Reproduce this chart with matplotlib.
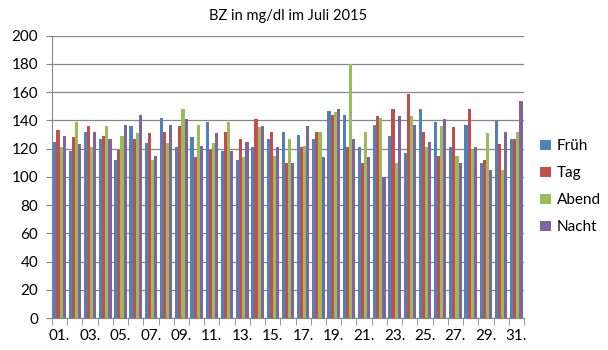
import matplotlib
matplotlib.use("Agg")
import matplotlib.pyplot as plt
import numpy as np

days = [f"{d:02d}." for d in range(1, 32)]
series_names = ["Früh", "Tag", "Abend", "Nacht"]
frueh = [125, 118, 132, 127, 112, 136, 124, 142, 121, 128, 139, 118, 112, 121, 127, 132,
         130, 127, 147, 144, 121, 137, 129, 117, 148, 139, 121, 137, 110, 140, 127]
tag = [133, 128, 136, 129, 119, 127, 131, 132, 136, 114, 119, 132, 127, 141, 132, 110,
       121, 132, 144, 121, 110, 143, 148, 159, 132, 115, 135, 148, 112, 123, 127]
abend = [121, 139, 121, 136, 129, 131, 112, 124, 148, 137, 124, 139, 114, 135, 115, 127,
         122, 132, 146, 180, 132, 142, 110, 143, 121, 136, 115, 119, 131, 105, 132]
nacht = [129, 123, 132, 127, 137, 144, 115, 137, 141, 122, 131, 118, 125, 136, 121, 110,
         136, 114, 148, 127, 114, 100, 143, 137, 125, 141, 110, 121, 105, 132, 154]
colors = ["#4F81BD", "#C0504D", "#9BBB59", "#8064A2"]
title = "BZ in mg/dl im Juli 2015"

plt.rcParams['font.family'] = ['Lato', 'DejaVu Sans']

fig = plt.figure(figsize=(6.08, 3.5), dpi=100)
ax = fig.add_axes([0.0855, 0.0914, 0.7763, 0.8066])

x = np.arange(len(days))
bw = 0.205
data = [frueh, tag, abend, nacht]
for i, (name, vals, c) in enumerate(zip(series_names, data, colors)):
    ax.bar(x + (i - 1.5) * bw, vals, width=bw, color=c, label=name, zorder=3,
           linewidth=0)

ax.set_xlim(-0.5, len(days) - 0.5)
ax.set_ylim(0, 200)
ax.set_yticks(np.arange(0, 201, 20))
ax.yaxis.grid(True, color="#868686", linewidth=0.9, zorder=0)
ax.tick_params(axis='y', labelsize=11, length=4, color="#868686", pad=6)

ax.set_xticks(x[::2])
ax.set_xticklabels(days[::2])
ax.set_xticks(np.arange(-0.5, len(days) + 0.5, 1), minor=True)
ax.tick_params(axis='x', which='major', length=0, labelsize=11, pad=8)
ax.tick_params(axis='x', which='minor', length=5, color="#868686")

for s in ["top", "right"]:
    ax.spines[s].set_visible(False)
ax.spines["left"].set_color("#868686")
ax.spines["bottom"].set_color("#868686")

fig.text(0.474, 0.955, title, ha="center", va="center", fontsize=10.5)

fig.legend(loc="center left", bbox_to_anchor=(0.866, 0.466), frameon=False,
           fontsize=11, handlelength=0.7, handleheight=0.7, handletextpad=0.4,
           labelspacing=0.85)

fig.savefig("out.png", dpi=100)
